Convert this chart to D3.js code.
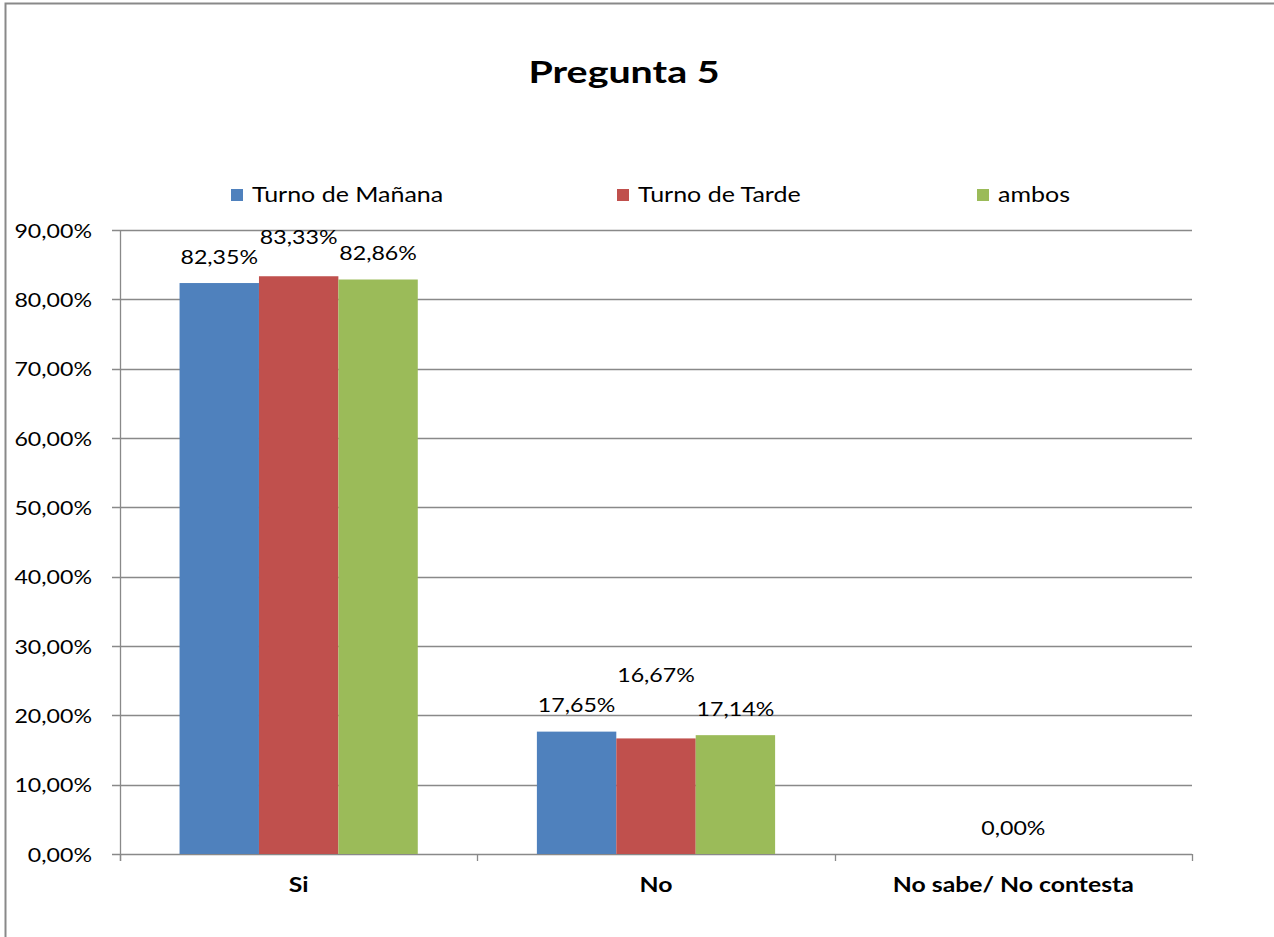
<!DOCTYPE html>
<html><head><meta charset="utf-8">
<script src="https://cdn.jsdelivr.net/npm/d3@7"></script>
<style>body{margin:0;background:#fff}text{font-family:Lato,'Open Sans',sans-serif;fill:#000}</style></head>
<body><svg id="c" width="1274" height="937"></svg>
<script>
const categories=["Si","No","No sabe/ No contesta"];
const seriesNames=["Turno de Mañana","Turno de Tarde","ambos"];
const manana=[82.35,17.65,0];
const tarde=[83.33,16.67,0];
const ambos=[82.86,17.14,0];
const yTicks=[0,10,20,30,40,50,60,70,80,90];
const colors=["#4F81BD","#C0504D","#9BBB59"];
const title="Pregunta 5";

(function(){
const series=[manana,tarde,ambos];
const loc=d3.formatLocale({decimal:",",thousands:".",grouping:[3],currency:["","€"]});
const fmt=v=>loc.format(".2f")(v)+"%";
const SX=1.22;
const svg=d3.select("#c");
svg.append("rect").attr("x",5.5).attr("y",3.5).attr("width",1300).attr("height",1000)
  .attr("fill","none").attr("stroke","#898989").attr("stroke-width",2);

const pl=120,pr=1192,pt=230,pb=854;
const y=d3.scaleLinear().domain([0,90]).range([pb,pt]);
const x0=d3.scaleBand().domain(categories).range([pl,pr]);
const x1=d3.scaleBand().domain(seriesNames).range([0,x0.bandwidth()]).paddingInner(0).paddingOuter(0.75);

function txt(x,yy,s,o={}){
  const t=svg.append("g").attr("transform",`translate(${x},${yy}) scale(${o.sx||SX},1)`)
   .append("text").text(s).attr("text-anchor",o.anchor||"middle")
   .attr("dy",o.dy||"0.35em").style("font-size",(o.size||19)+"px");
  if(o.bold) t.style("font-weight","bold");
  return t;
}
yTicks.forEach(v=>{
  svg.append("line").attr("x1",pl-8).attr("x2",pr).attr("y1",Math.round(y(v))+0.5).attr("y2",Math.round(y(v))+0.5)
   .attr("stroke","#898989").attr("stroke-width",1.3);
  txt(92,y(v)+1,fmt(v),{anchor:"end"});
});
svg.append("line").attr("x1",pl+0.5).attr("x2",pl+0.5).attr("y1",pt).attr("y2",pb+7).attr("stroke","#898989").attr("stroke-width",1.3);
[...categories.map(c=>x0(c)),pr].forEach(xx=>{
  svg.append("line").attr("x1",Math.round(xx)+0.5).attr("x2",Math.round(xx)+0.5).attr("y1",pb).attr("y2",pb+7).attr("stroke","#898989").attr("stroke-width",1.3);
});
series.forEach((arr,si)=>{
  categories.forEach((c,ci)=>{
    const v=arr[ci];
    svg.append("rect").attr("x",x0(c)+x1(seriesNames[si])).attr("y",y(v))
      .attr("width",x1.bandwidth()).attr("height",pb-y(v)).attr("fill",colors[si]);
  });
});
const shown=[[1,1,1],[1,1,1],[0,1,0]];
const nudge=[[0,13,0],[0,37,0],[0,0,0]];
series.forEach((arr,si)=>{
  categories.forEach((c,ci)=>{
    if(!shown[ci][si]) return;
    const v=arr[ci];
    txt(x0(c)+x1(seriesNames[si])+x1.bandwidth()/2, y(v)-26-nudge[ci][si], fmt(v));
  });
});
categories.forEach(c=>txt(x0(c)+x0.bandwidth()/2,885,c,{bold:true,size:20,sx:1.24}));
const legX=[231,617,977];
seriesNames.forEach((s,i)=>{
  svg.append("rect").attr("x",legX[i]).attr("y",189).attr("width",12).attr("height",12).attr("fill",colors[i]);
  txt(legX[i]+21,195,s,{anchor:"start",size:21,sx:1.19});
});
txt(624,72.5,title,{bold:true,size:31,sx:1.27});
})();
</script></body></html>
